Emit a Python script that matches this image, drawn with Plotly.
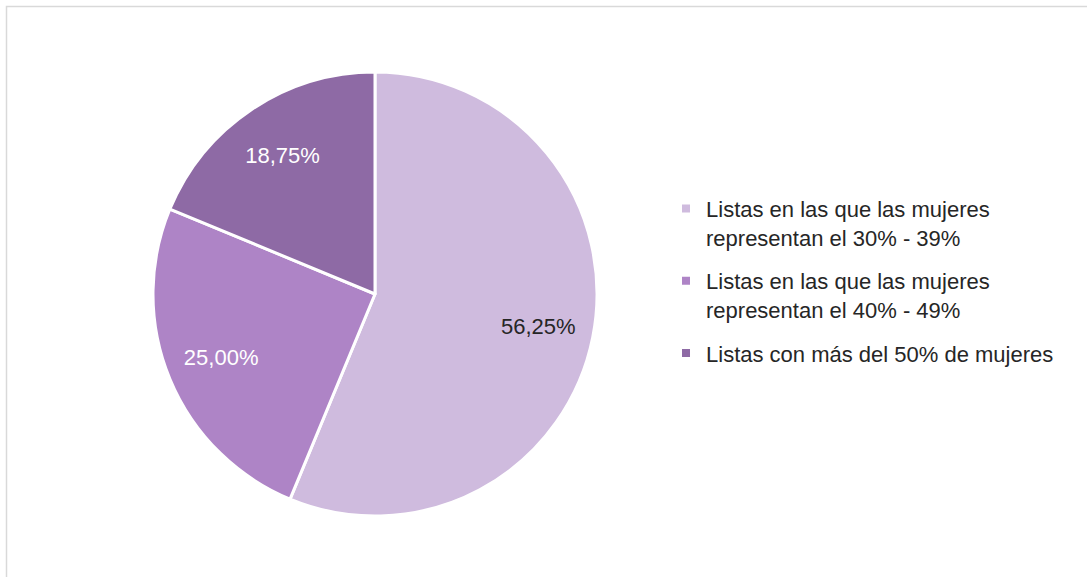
import plotly.graph_objects as go

labels = [
    "Listas en las que las mujeres<br>representan el 30% - 39%",
    "Listas en las que las mujeres<br>representan el 40% - 49%",
    "Listas con más del 50% de mujeres",
]
values = [56.25, 25.00, 18.75]
colors = ["#CFBBDE", "#AE84C6", "#8E6AA5"]
text_colors = ["#262626", "#FFFFFF", "#FFFFFF"]

W, H = 1087, 577
cx, cy, r = 375, 294, 222
dom = dict(x=[(cx - r) / W, (cx + r) / W], y=[1 - (cy + r) / H, 1 - (cy - r) / H])
FONT = "Liberation Sans"

fig = go.Figure()
# main pie (slices)
fig.add_trace(go.Pie(
    labels=labels, values=values, sort=False, direction="clockwise", rotation=0,
    marker=dict(colors=colors, line=dict(color="white", width=3)),
    textinfo="none", showlegend=False, hoverinfo="label+percent",
    domain=dom,
))
# transparent ring used only to place the percentage labels further out
fig.add_trace(go.Pie(
    labels=labels, values=values, sort=False, direction="clockwise", rotation=0,
    hole=0.5,
    marker=dict(colors=["rgba(0,0,0,0)"] * len(values), line=dict(width=0)),
    texttemplate="%{percent:.2%}", textposition="inside",
    insidetextorientation="horizontal",
    textfont=dict(family=FONT, size=22, color=text_colors),
    showlegend=False, hoverinfo="skip",
    domain=dom,
))
# legend entries
for lab, col in zip(labels, colors):
    fig.add_trace(go.Scatter(
        x=[None], y=[None], mode="markers", name=lab, legendgroup=lab,
        marker=dict(symbol="square", size=8, color=col),
    ))

fig.update_layout(
    width=W, height=H,
    margin=dict(l=0, r=0, t=0, b=0),
    paper_bgcolor="white",
    plot_bgcolor="white",
    separators=",.",
    font=dict(family=FONT, size=22, color="#262626"),
    xaxis=dict(visible=False), yaxis=dict(visible=False),
    legend=dict(
        x=0.6127, y=0.5135, xanchor="left", yanchor="middle",
        font=dict(family=FONT, size=22, color="#262626"),
        valign="top", tracegroupgap=12, bgcolor="rgba(0,0,0,0)",
    ),
    shapes=[dict(
        type="rect", xref="paper", yref="paper",
        x0=6.5 / W, x1=1.02, y0=-0.02, y1=1 - 6.5 / H,
        line=dict(color="#D9D9D9", width=1.5),
        fillcolor="rgba(0,0,0,0)", layer="below",
    )],
)

fig.write_html("out.html", config={"displayModeBar": False},
               post_script="document.body.style.margin='0';")
